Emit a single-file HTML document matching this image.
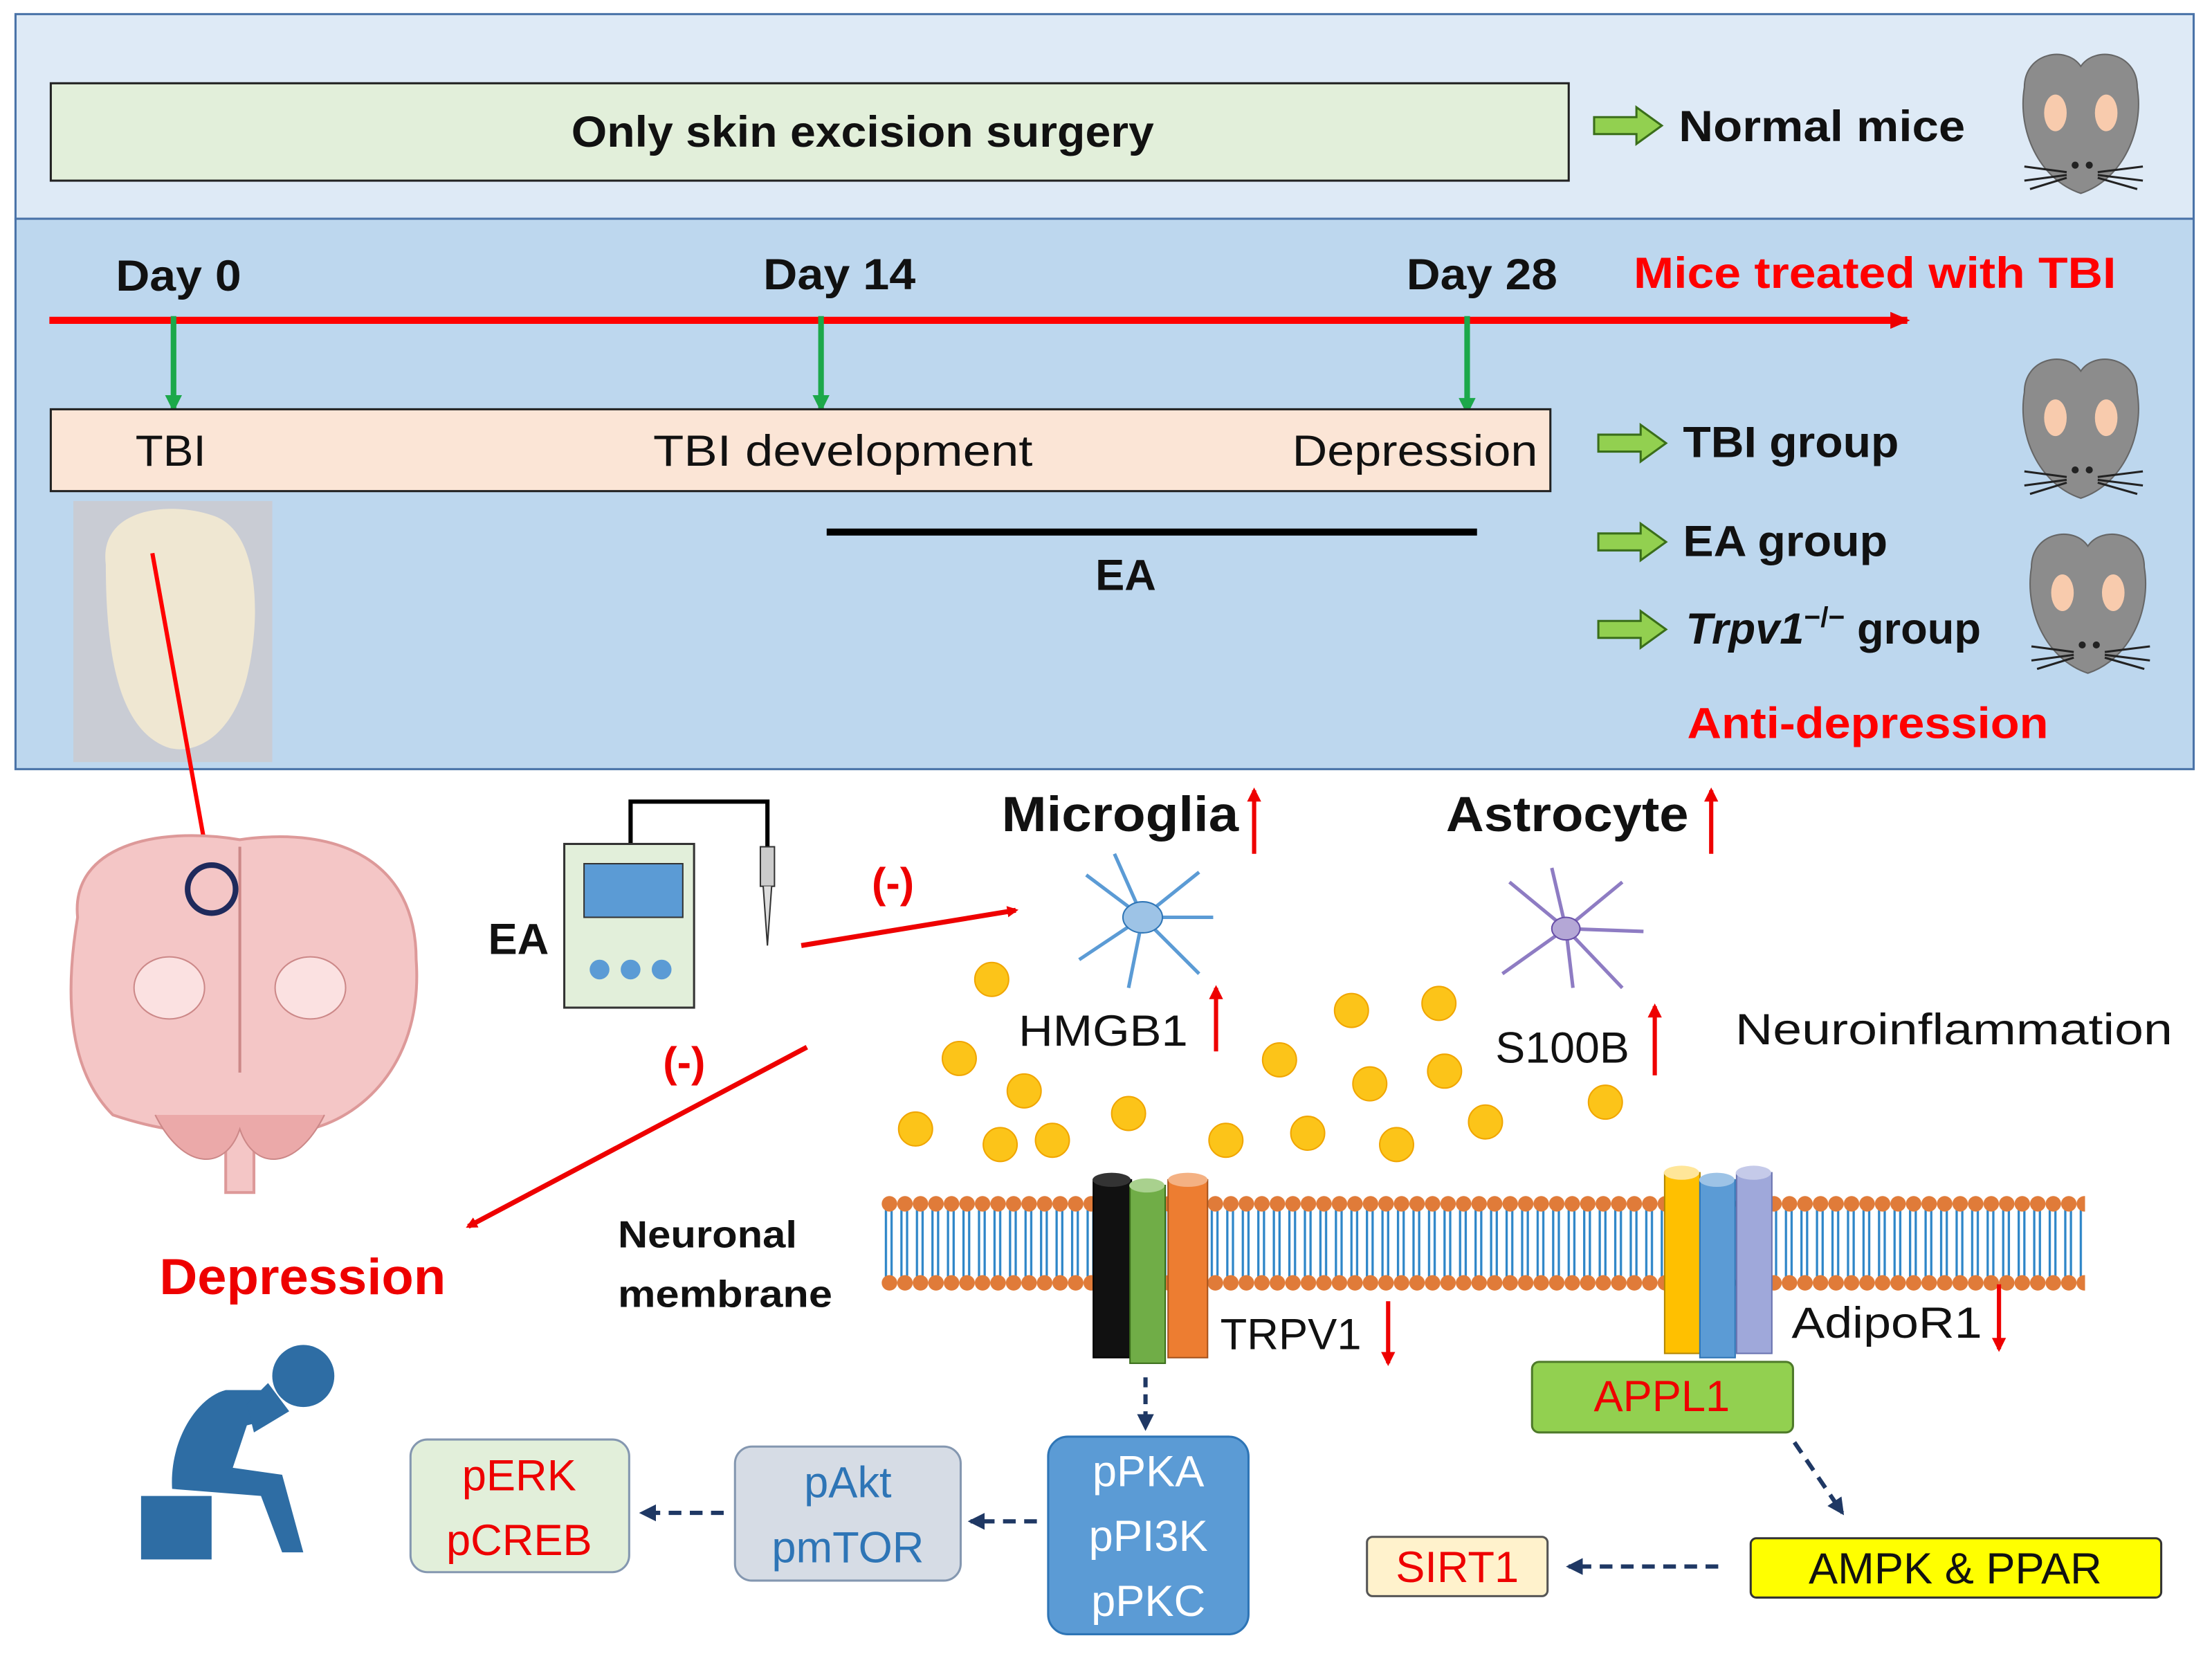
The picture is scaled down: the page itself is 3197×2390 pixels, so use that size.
<!DOCTYPE html>
<html><head><meta charset="utf-8"><style>
html,body{margin:0;padding:0;background:#fff}
svg{display:block}
text{font-family:"Liberation Sans",sans-serif}
</style></head><body>
<svg width="3197" height="2390" viewBox="0 0 1568 1172" preserveAspectRatio="none" xmlns="http://www.w3.org/2000/svg">
<defs>
<marker id="ar" markerWidth="8" markerHeight="8" refX="6" refY="4" orient="auto" markerUnits="userSpaceOnUse" viewBox="0 0 8 8"><path d="M0,0 L8,4 L0,8 z" fill="#e00"/></marker>
<marker id="arR" markerWidth="14" markerHeight="12" refX="12" refY="6" orient="auto" markerUnits="userSpaceOnUse"><path d="M0,0 L14,6 L0,12 z" fill="#e00"/></marker>
<marker id="arG" markerWidth="12" markerHeight="12" refX="10" refY="6" orient="auto" markerUnits="userSpaceOnUse"><path d="M0,0 L12,6 L0,12 z" fill="#1ca84a"/></marker>
<marker id="arN" markerWidth="12" markerHeight="12" refX="10" refY="6" orient="auto" markerUnits="userSpaceOnUse"><path d="M0,0 L12,6 L0,12 z" fill="#1f3864"/></marker>
<marker id="arU" markerWidth="10" markerHeight="10" refX="8" refY="5" orient="auto" markerUnits="userSpaceOnUse"><path d="M0,0 L10,5 L0,10 z" fill="#e00"/></marker>
<pattern id="lip" x="625" y="0" width="11" height="1172" patternUnits="userSpaceOnUse">
<line x1="3" y1="856" x2="3" y2="905" stroke="#2e86c8" stroke-width="1.6"/>
<line x1="7" y1="856" x2="7" y2="905" stroke="#2e86c8" stroke-width="1.6"/>
<circle cx="5.5" cy="853" r="5.5" fill="#e07b39"/>
<circle cx="5.5" cy="909" r="5.5" fill="#e07b39"/>
</pattern>
<g id="garrow"><path d="M0,-6 L30,-6 L30,-13 L48,0 L30,13 L30,6 L0,6 z" fill="#92d050" stroke="#3a6e1a" stroke-width="1.5"/></g>
<g id="mouse">
<path d="M-40,-30 C-40,-55 -10,-60 0,-45 C10,-60 40,-55 40,-30 C45,0 30,35 0,45 C-30,35 -45,0 -40,-30z" fill="#8c8c8c" stroke="#666"/>
<ellipse cx="-18" cy="-12" rx="8" ry="13" fill="#f8cbad"/><ellipse cx="18" cy="-12" rx="8" ry="13" fill="#f8cbad"/>
<circle cx="-4" cy="25" r="2.5" fill="#222"/><circle cx="6" cy="25" r="2.5" fill="#222"/>
<path d="M-10,30 L-40,26 M-10,32 L-40,36 M-10,34 L-36,42 M12,30 L44,26 M12,32 L44,36 M12,34 L40,42" stroke="#222" stroke-width="1.5"/>
</g>
</defs>

<rect x="11" y="10" width="1544" height="145" fill="#deeaf6" stroke="#4a73a8" stroke-width="1.5"/>
<rect x="11" y="155" width="1544" height="390" fill="#bdd7ee" stroke="#4a73a8" stroke-width="1.5"/>
<rect x="36" y="59" width="1076" height="69" fill="#e2efda" stroke="#222" stroke-width="1.5"/>
<text x="405" y="104" font-size="31" font-weight="bold" fill="#111" textLength="413" lengthAdjust="spacingAndGlyphs">Only skin excision surgery</text>
<use href="#garrow" x="1130" y="89"/>
<text x="1190" y="100" font-size="31" font-weight="bold" fill="#111" textLength="203" lengthAdjust="spacingAndGlyphs">Normal mice</text>
<use href="#mouse" x="1475" y="92"/>

<line x1="35" y1="227" x2="1352" y2="227" stroke="#f00" stroke-width="5" marker-end="url(#arR)"/>
<text x="82" y="206" font-size="31" font-weight="bold" fill="#111" textLength="89" lengthAdjust="spacingAndGlyphs">Day 0</text>
<text x="541" y="205" font-size="31" font-weight="bold" fill="#111" textLength="108" lengthAdjust="spacingAndGlyphs">Day 14</text>
<text x="997" y="205" font-size="31" font-weight="bold" fill="#111" textLength="107" lengthAdjust="spacingAndGlyphs">Day 28</text>
<text x="1158" y="204" font-size="31" font-weight="bold" fill="#f00" textLength="342" lengthAdjust="spacingAndGlyphs">Mice treated with TBI</text>
<line x1="123" y1="224" x2="123" y2="290" stroke="#1ca84a" stroke-width="4" marker-end="url(#arG)"/>
<line x1="582" y1="224" x2="582" y2="290" stroke="#1ca84a" stroke-width="4" marker-end="url(#arG)"/>
<line x1="1040" y1="224" x2="1040" y2="292" stroke="#1ca84a" stroke-width="4" marker-end="url(#arG)"/>
<rect x="36" y="290" width="1063" height="58" fill="#fbe5d6" stroke="#222" stroke-width="1.5"/>
<text x="96" y="330" font-size="31" fill="#111" textLength="50" lengthAdjust="spacingAndGlyphs">TBI</text>
<text x="463" y="330" font-size="31" fill="#111" textLength="269" lengthAdjust="spacingAndGlyphs">TBI development</text>
<text x="916" y="330" font-size="31" fill="#111" textLength="174" lengthAdjust="spacingAndGlyphs">Depression</text>
<line x1="586" y1="377" x2="1047" y2="377" stroke="#000" stroke-width="5"/>
<text x="798" y="418" font-size="31" font-weight="bold" text-anchor="middle" fill="#111">EA</text>
<use href="#garrow" x="1133" y="314"/>
<use href="#garrow" x="1133" y="384"/>
<use href="#garrow" x="1133" y="446"/>
<text x="1193" y="324" font-size="31" font-weight="bold" fill="#111" textLength="153" lengthAdjust="spacingAndGlyphs">TBI group</text>
<text x="1193" y="394" font-size="31" font-weight="bold" fill="#111" textLength="145" lengthAdjust="spacingAndGlyphs">EA group</text>
<text x="1195" y="456" font-size="31" font-weight="bold" fill="#111"><tspan font-style="italic">Trpv1</tspan><tspan font-size="20" dy="-12">−/−</tspan><tspan dy="12"> group</tspan></text>
<text x="1196" y="523" font-size="31" font-weight="bold" fill="#f00" textLength="256" lengthAdjust="spacingAndGlyphs">Anti-depression</text>
<use href="#mouse" x="1475" y="308"/>
<use href="#mouse" x="1480" y="432"/>

<rect x="52" y="355" width="141" height="185" fill="#c9ccd4"/>
<path d="M75,400 C70,360 120,355 150,365 C185,375 185,440 175,480 C165,520 140,535 120,530 C90,520 75,480 75,400z" fill="#efe7d2"/>
<line x1="108" y1="392" x2="150" y2="625" stroke="#f00" stroke-width="3" marker-end="url(#ar)"/>

<path d="M55,650 C50,600 110,585 170,595 C240,585 295,610 295,680 C300,750 260,790 220,800 C200,805 185,800 180,800 L180,845 L160,845 L160,800 C140,805 110,800 80,790 C50,760 45,710 55,650z" fill="#f4c6c6" stroke="#d99" stroke-width="2"/>
<path d="M170,600 L170,760" stroke="#c88" stroke-width="2"/>
<ellipse cx="120" cy="700" rx="25" ry="22" fill="#fbe1e1" stroke="#c88"/>
<ellipse cx="220" cy="700" rx="25" ry="22" fill="#fbe1e1" stroke="#c88"/>
<path d="M110,790 C130,830 160,830 170,800 C180,830 210,830 230,790" fill="#eba9a9" stroke="#c88"/>
<circle cx="150" cy="630" r="17" fill="none" stroke="#1f2a5c" stroke-width="4"/>

<path d="M447,598 L447,568 L544,568 L544,605" fill="none" stroke="#000" stroke-width="3"/>
<rect x="539" y="600" width="10" height="28" fill="#ccc" stroke="#333"/>
<path d="M541,628 L544,670 L547,628" fill="#ddd" stroke="#333"/>
<rect x="400" y="598" width="92" height="116" fill="#e2efda" stroke="#333" stroke-width="1.5"/>
<rect x="414" y="612" width="70" height="38" fill="#5b9bd5" stroke="#333"/>
<circle cx="425" cy="687" r="7" fill="#5b9bd5"/><circle cx="447" cy="687" r="7" fill="#5b9bd5"/><circle cx="469" cy="687" r="7" fill="#5b9bd5"/>
<text x="346" y="676" font-size="31" font-weight="bold" fill="#111">EA</text>
<line x1="568" y1="670" x2="720" y2="645" stroke="#e00" stroke-width="3.5" marker-end="url(#ar)"/>
<text x="618" y="636" font-size="30" font-weight="bold" fill="#e00">(-)</text>
<line x1="572" y1="742" x2="332" y2="869" stroke="#e00" stroke-width="3.5" marker-end="url(#ar)"/>
<text x="470" y="763" font-size="30" font-weight="bold" fill="#e00">(-)</text>

<text x="710" y="589" font-size="35" font-weight="bold" fill="#111" textLength="168" lengthAdjust="spacingAndGlyphs">Microglia</text>
<line x1="889" y1="605" x2="889" y2="560" stroke="#e00" stroke-width="3" marker-end="url(#arU)"/>
<text x="1025" y="589" font-size="35" font-weight="bold" fill="#111" textLength="172" lengthAdjust="spacingAndGlyphs">Astrocyte</text>
<line x1="1213" y1="605" x2="1213" y2="560" stroke="#e00" stroke-width="3" marker-end="url(#arU)"/>
<g stroke="#5b9bd5" stroke-width="2.5" fill="none">
<path d="M810,650 L770,620 M810,650 L850,618 M810,650 L765,680 M810,650 L850,690 M810,650 L800,700 M810,650 L860,650 M810,650 L790,605"/>
</g>
<ellipse cx="810" cy="650" rx="14" ry="11" fill="#9dc3e6" stroke="#2e75b6"/>
<g stroke="#8e7cc3" stroke-width="2.5" fill="none">
<path d="M1110,658 L1070,625 M1110,658 L1150,625 M1110,658 L1065,690 M1110,658 L1150,700 M1110,658 L1115,700 M1110,658 L1165,660 M1110,658 L1100,615"/>
</g>
<ellipse cx="1110" cy="658" rx="10" ry="8" fill="#b4a7d6" stroke="#674ea7"/>
<text x="722" y="741" font-size="31" fill="#111" textLength="120" lengthAdjust="spacingAndGlyphs">HMGB1</text>
<line x1="862" y1="745" x2="862" y2="700" stroke="#e00" stroke-width="3" marker-end="url(#arU)"/>
<text x="1060" y="753" font-size="31" fill="#111" textLength="95" lengthAdjust="spacingAndGlyphs">S100B</text>
<line x1="1173" y1="762" x2="1173" y2="713" stroke="#e00" stroke-width="3" marker-end="url(#arU)"/>
<text x="1230" y="740" font-size="31" fill="#111" textLength="310" lengthAdjust="spacingAndGlyphs">Neuroinflammation</text>
<g fill="#fcc419" stroke="#f0a500" stroke-width="1">
<circle cx="703" cy="694" r="12"/><circle cx="680" cy="750" r="12"/><circle cx="726" cy="773" r="12"/><circle cx="649" cy="800" r="12"/><circle cx="709" cy="811" r="12"/><circle cx="746" cy="808" r="12"/><circle cx="800" cy="789" r="12"/><circle cx="869" cy="808" r="12"/><circle cx="907" cy="751" r="12"/><circle cx="927" cy="803" r="12"/><circle cx="958" cy="716" r="12"/><circle cx="971" cy="768" r="12"/><circle cx="990" cy="811" r="12"/><circle cx="1020" cy="711" r="12"/><circle cx="1024" cy="759" r="12"/><circle cx="1053" cy="795" r="12"/><circle cx="1138" cy="781" r="12"/>
</g>

<rect x="625" y="846" width="853" height="70" fill="url(#lip)"/>
<text x="438" y="884" font-size="27" font-weight="bold" fill="#111" textLength="127" lengthAdjust="spacingAndGlyphs">Neuronal</text>
<text x="438" y="926" font-size="27" font-weight="bold" fill="#111" textLength="152" lengthAdjust="spacingAndGlyphs">membrane</text>
<rect x="775" y="836" width="27" height="126" fill="#111" stroke="#000"/><ellipse cx="788" cy="836" rx="13.5" ry="5" fill="#333"/>
<rect x="801" y="840" width="25" height="126" fill="#70ad47" stroke="#3a6e1a"/><ellipse cx="813" cy="840" rx="12.5" ry="5" fill="#a9d18e"/>
<rect x="828" y="836" width="28" height="126" fill="#ed7d31" stroke="#a5521b"/><ellipse cx="842" cy="836" rx="14" ry="5" fill="#f4b183"/>
<text x="865" y="956" font-size="31" fill="#111" textLength="100" lengthAdjust="spacingAndGlyphs">TRPV1</text>
<line x1="984" y1="922" x2="984" y2="966" stroke="#e00" stroke-width="3" marker-end="url(#arU)"/>
<rect x="1180" y="831" width="25" height="128" fill="#ffc000" stroke="#b38600"/><ellipse cx="1192" cy="831" rx="12.5" ry="5" fill="#ffe699"/>
<rect x="1205" y="836" width="25" height="126" fill="#5b9bd5" stroke="#2e75b6"/><ellipse cx="1217" cy="836" rx="12.5" ry="5" fill="#9dc3e6"/>
<rect x="1231" y="831" width="25" height="128" fill="#9fa8da" stroke="#6a73b0"/><ellipse cx="1243" cy="831" rx="12.5" ry="5" fill="#c5cae9"/>
<text x="1270" y="948" font-size="31" fill="#111" textLength="135" lengthAdjust="spacingAndGlyphs">AdipoR1</text>
<line x1="1417" y1="910" x2="1417" y2="956" stroke="#e00" stroke-width="3" marker-end="url(#arU)"/>

<rect x="1086" y="965" width="185" height="50" rx="5" fill="#92d050" stroke="#4e7a2a" stroke-width="1.5"/>
<text x="1178" y="1000" font-size="31" text-anchor="middle" fill="#e00">APPL1</text>
<line x1="1272" y1="1022" x2="1306" y2="1072" stroke="#1f3864" stroke-width="3" stroke-dasharray="9,6" marker-end="url(#arN)"/>
<rect x="1241" y="1090" width="291" height="42" rx="4" fill="#ffff00" stroke="#333" stroke-width="1.5"/>
<text x="1386" y="1122" font-size="31" text-anchor="middle" fill="#111">AMPK &amp; PPAR</text>
<line x1="1218" y1="1110" x2="1112" y2="1110" stroke="#1f3864" stroke-width="3" stroke-dasharray="9,6" marker-end="url(#arN)"/>
<rect x="969" y="1089" width="128" height="42" rx="4" fill="#fff2cc" stroke="#555" stroke-width="1.5"/>
<text x="1033" y="1121" font-size="31" text-anchor="middle" fill="#e00">SIRT1</text>

<line x1="812" y1="976" x2="812" y2="1012" stroke="#1f3864" stroke-width="3" stroke-dasharray="7,5" marker-end="url(#arN)"/>
<rect x="743" y="1018" width="142" height="140" rx="14" fill="#5b9bd5" stroke="#2e75b6" stroke-width="1.5"/>
<text x="814" y="1053" font-size="31" text-anchor="middle" fill="#fff">pPKA</text>
<text x="814" y="1099" font-size="31" text-anchor="middle" fill="#fff">pPI3K</text>
<text x="814" y="1145" font-size="31" text-anchor="middle" fill="#fff">pPKC</text>
<line x1="735" y1="1078" x2="688" y2="1078" stroke="#1f3864" stroke-width="3" stroke-dasharray="9,6" marker-end="url(#arN)"/>
<rect x="521" y="1025" width="160" height="95" rx="12" fill="#d6dce5" stroke="#8497b0" stroke-width="1.5"/>
<text x="601" y="1061" font-size="31" text-anchor="middle" fill="#2e75b6">pAkt</text>
<text x="601" y="1107" font-size="31" text-anchor="middle" fill="#2e75b6">pmTOR</text>
<line x1="513" y1="1072" x2="455" y2="1072" stroke="#1f3864" stroke-width="3" stroke-dasharray="9,6" marker-end="url(#arN)"/>
<rect x="291" y="1020" width="155" height="94" rx="12" fill="#e2efda" stroke="#8497b0" stroke-width="1.5"/>
<text x="368" y="1056" font-size="31" text-anchor="middle" fill="#e00">pERK</text>
<text x="368" y="1102" font-size="31" text-anchor="middle" fill="#e00">pCREB</text>

<text x="113" y="917" font-size="36" font-weight="bold" fill="#e00" textLength="203" lengthAdjust="spacingAndGlyphs">Depression</text>
<g fill="#2e6da4">
<circle cx="215" cy="975" r="22"/>
<path d="M100,1105 L100,1060 L150,1060 L150,1105 z"/>
<path d="M160,985 C140,990 120,1020 122,1055 L185,1060 L200,1100 L215,1100 L200,1045 L165,1040 L175,1010 L195,1005 L190,985 z"/>
<path d="M190,980 L205,1000 L180,1015 L175,995z"/>
</g>
</svg>
</body></html>
